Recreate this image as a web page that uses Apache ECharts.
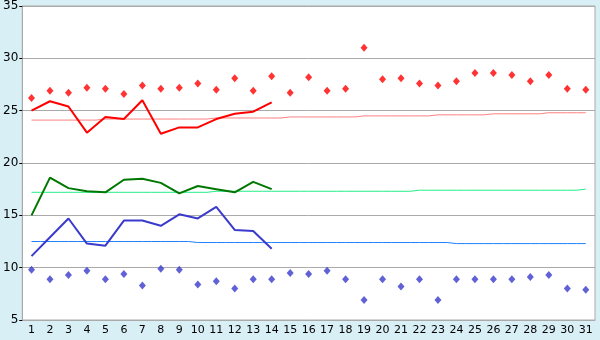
<!DOCTYPE html>
<html><head><meta charset="utf-8">
<script src="https://cdn.jsdelivr.net/npm/echarts@6/dist/echarts.min.js"></script>
<style>html,body{margin:0;padding:0;background:#D9EFF6;}#c{width:600px;height:340px;}</style>
</head><body><div id="c"></div>
<script>
var days = ['1','2','3','4','5','6','7','8','9','10','11','12','13','14','15','16','17','18','19','20','21','22','23','24','25','26','27','28','29','30','31'];
var maxPoints = [26.2,26.9,26.7,27.2,27.1,26.6,27.4,27.1,27.2,27.6,27.0,28.1,26.9,28.3,26.7,28.2,26.9,27.1,31.0,28.0,28.1,27.6,27.4,27.8,28.6,28.6,28.4,27.8,28.4,27.1,27.0];
var minPoints = [9.8,8.9,9.3,9.7,8.9,9.4,8.3,9.9,9.8,8.4,8.7,8.0,8.9,8.9,9.5,9.4,9.7,8.9,6.9,8.9,8.2,8.9,6.9,8.9,8.9,8.9,8.9,9.1,9.3,8.0,7.9];
var maxLine = [25.0,25.9,25.4,22.9,24.4,24.2,26.0,22.8,23.4,23.4,24.2,24.7,24.9,25.8];
var meanLine = [15.0,18.6,17.6,17.3,17.2,18.4,18.5,18.1,17.1,17.8,17.5,17.2,18.2,17.5];
var minLine = [11.1,12.9,14.7,12.3,12.1,14.5,14.5,14.0,15.1,14.7,15.8,13.6,13.5,11.8];
var normalMax = [24.1,24.1,24.1,24.1,24.2,24.2,24.2,24.2,24.2,24.2,24.3,24.3,24.3,24.3,24.4,24.4,24.4,24.4,24.5,24.5,24.5,24.5,24.6,24.6,24.6,24.7,24.7,24.7,24.8,24.8,24.8];
var normalMean = [17.2,17.2,17.2,17.2,17.2,17.2,17.2,17.2,17.2,17.2,17.3,17.3,17.3,17.3,17.3,17.3,17.3,17.3,17.3,17.3,17.3,17.4,17.4,17.4,17.4,17.4,17.4,17.4,17.4,17.4,17.5];
var normalMin = [12.5,12.5,12.5,12.5,12.5,12.5,12.5,12.5,12.5,12.4,12.4,12.4,12.4,12.4,12.4,12.4,12.4,12.4,12.4,12.4,12.4,12.4,12.4,12.3,12.3,12.3,12.3,12.3,12.3,12.3,12.3];

var chart = echarts.init(document.getElementById('c'));
function lineS(data, color, w, step) {
  return {type:'line', data:data, showSymbol:false, symbol:'none', step: step || false,
    lineStyle:{color:color, width:w}, itemStyle:{color:color}, z: w>1?3:2};
}
function dots(data, color) {
  return {type:'scatter', data:data, symbol:'diamond', symbolSize:[7,8], itemStyle:{color:color}, z:4};
}
chart.setOption({
  animation:false,
  backgroundColor:'#D9EFF6',
  textStyle:{fontFamily:'DejaVu Sans'},
  grid:{left:21, right:5, top:5, bottom:20, show:true, backgroundColor:'#FFFFFF', borderColor:'#AAAAAA', borderWidth:1},
  xAxis:{type:'category', data:days, boundaryGap:true,
    axisLine:{lineStyle:{color:'#AAAAAA'}},
    axisTick:{alignWithLabel:true, length:4, lineStyle:{color:'#000'}},
    axisLabel:{color:'#000', fontSize:11, margin:5, interval:0},
    splitLine:{show:false}},
  yAxis:{type:'value', min:5, max:35, interval:5,
    axisLine:{show:true, lineStyle:{color:'#AAAAAA'}},
    axisTick:{show:true, length:3, lineStyle:{color:'#000'}},
    axisLabel:{color:'#000', fontSize:12, margin:4},
    splitLine:{lineStyle:{color:'#AAAAAA'}}},
  series:[
    lineS(normalMax,'#FF8080',1,'middle'),
    lineS(normalMean,'#22EE88',1,'middle'),
    lineS(normalMin,'#1E7FFF',1,'middle'),
    lineS(maxLine,'#FF0000',2),
    lineS(meanLine,'#007700',2),
    lineS(minLine,'#3A3ACC',2),
    dots(maxPoints,'#FF0000'),
    dots(minPoints,'#3A3ACC')
  ]
});
</script></body></html>
